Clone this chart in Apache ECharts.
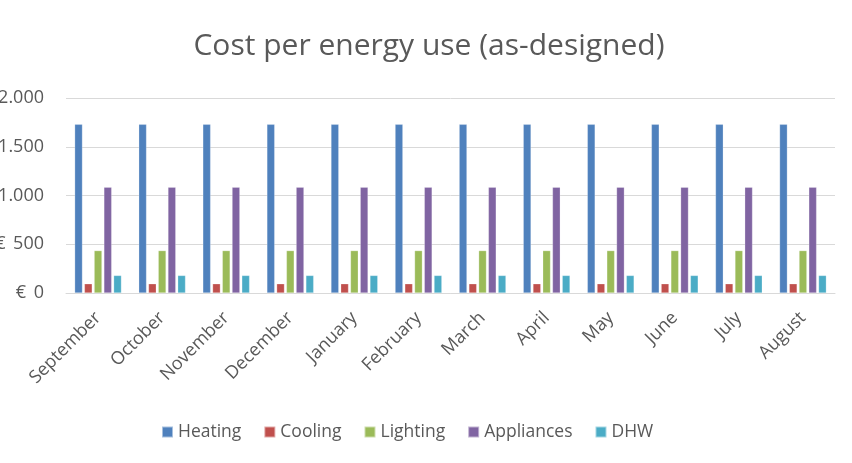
<!DOCTYPE html>
<html><head><meta charset="utf-8">
<script src="https://cdn.jsdelivr.net/npm/echarts@6/dist/echarts.min.js"></script>
<style>html,body{margin:0;padding:0;background:#fff}#c{width:852px;height:463px}</style>
</head><body><div id="c"></div>
<script>
const months = ['September','October','November','December','January','February','March','April','May','June','July','August'];
const heating = [1730,1730,1730,1730,1730,1730,1730,1730,1730,1730,1730,1730];
const cooling = [95,95,95,95,95,95,95,95,95,95,95,95];
const lighting = [435,435,435,435,435,435,435,435,435,435,435,435];
const appliances = [1085,1085,1085,1085,1085,1085,1085,1085,1085,1085,1085,1085];
const dhw = [180,180,180,180,180,180,180,180,180,180,180,180];
const seriesNames = ['Heating','Cooling','Lighting','Appliances','DHW'];
const colors = ['#4F81BD','#C0504D','#9BBB59','#8064A2','#4BACC6'];
const allData = [heating, cooling, lighting, appliances, dhw];
const font = 'Open Sans, Noto Sans, sans-serif';
function fmt(v){ return '{e|€} ' + String(v).replace(/\B(?=(\d{3})+(?!\d))/g, '.'); }
const chart = echarts.init(document.getElementById('c'));
chart.setOption({
  animation: false,
  title: { text: 'Cost per energy use (as-designed)', left: 424, top: 26, textAlign: 'center',
    textStyle: { fontFamily: font, fontSize: 30, fontWeight: 'normal', color: '#595959' } },
  legend: { bottom: 17, left: 156, itemWidth: 11, itemHeight: 11, itemGap: 22,
    icon: 'rect', textStyle: { fontFamily: font, fontSize: 17.5, color: '#595959' }, data: seriesNames },
  grid: { left: 66, right: 17, top: 98, bottom: 170, containLabel: false, outerBoundsMode: 'none' },
  xAxis: { type: 'category', data: months,
    axisLine: { lineStyle: { color: '#D9D9D9', width: 1 } }, axisTick: { show: false },
    axisLabel: { rotate: 45, interval: 0, margin: 22, fontFamily: font, fontSize: 18, color: '#595959' } },
  yAxis: { type: 'value', min: 0, max: 2000, interval: 500,
    axisLine: { show: false }, axisTick: { show: false },
    splitLine: { lineStyle: { color: '#D9D9D9', width: 1 } },
    axisLabel: { formatter: fmt, margin: 22, fontFamily: font, fontSize: 18, color: '#595959',
      rich: { e: { fontFamily: font, fontSize: 18, color: '#595959', padding: [0, 3, 0, 0] } } } },
  series: seriesNames.map((n, i) => ({ name: n, type: 'bar', data: allData[i], barGap: '25%', barCategoryGap: '27%',
    itemStyle: { color: colors[i], borderColor: 'rgba(255,255,255,0.5)', borderWidth: 0.5 } }))
});
</script></body></html>
